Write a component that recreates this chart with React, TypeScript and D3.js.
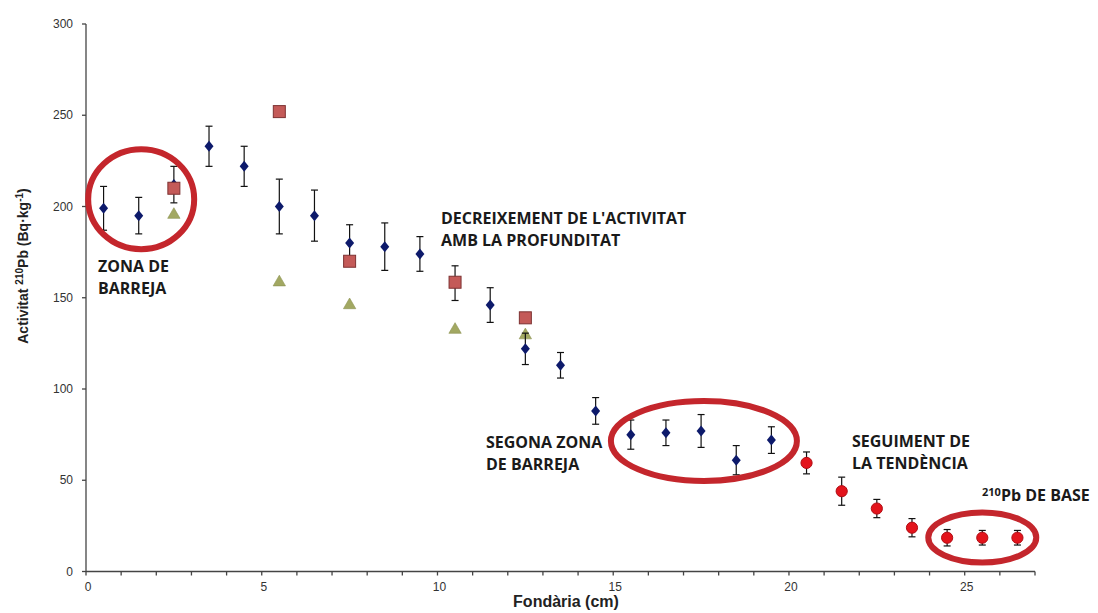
import React from "react";
import * as d3 from "d3";

// Depth (cm) and 210Pb activity (Bq·kg-1)
const depthMain = [0.5, 1.5, 2.5, 3.5, 4.5, 5.5, 6.5, 7.5, 8.5, 9.5, 10.5, 11.5, 12.5, 13.5, 14.5, 15.5, 16.5, 17.5, 18.5, 19.5];
const activityMain = [199, 195, 212, 233, 222, 200, 195, 180, 178, 174, 158, 146, 122, 113, 88, 75, 76, 77, 61, 72];
const errorMain = [12, 10, 10, 11, 11, 15, 14, 10, 13, 9.5, 9.5, 9.5, 8.6, 7, 7.3, 8, 7, 9, 8, 7.3];

const depthBase = [20.5, 21.5, 22.5, 23.5, 24.5, 25.5, 26.5];
const activityBase = [59.5, 44, 34.5, 24, 18.5, 18.5, 18.5];
const errorBase = [6, 7.7, 5, 5, 4.5, 4, 4];

const depthCompare = [2.5, 5.5, 7.5, 10.5, 12.5];
const activitySquare = [210, 252, 170, 158.5, 139];
const activityTriangle = [196, 159, 146.5, 133, 130];

const xTicks = [0, 5, 10, 15, 20, 25];
const xMinorTicks = d3.range(0, 28, 1);
const yTicks = [0, 50, 100, 150, 200, 250, 300];

// Highlighted zones: centre in data units, radii in px
const zones = [
  { cx: 1.57, cy: 204, rx: 53, ry: 50 },
  { cx: 17.58, cy: 71.5, rx: 93, ry: 40 },
  { cx: 25.5, cy: 18.6, rx: 54, ry: 25 },
];

const W = 1098;
const H = 613;
const x = d3.scaleLinear().domain([0, 27]).range([86, 1035]);
const y = d3.scaleLinear().domain([0, 300]).range([571.5, 24]);

const labelFont = "'Liberation Sans', Arial, sans-serif";
const noteFont = "'Open Sans', 'Liberation Sans', sans-serif";

function ErrorBar({ cx, v, e }: { cx: number; v: number; e: number }) {
  const top = y(v + e);
  const bot = y(v - e);
  return (
    <g stroke="#111" strokeWidth={1.2}>
      <line x1={cx} x2={cx} y1={top} y2={bot} />
      <line x1={cx - 3.5} x2={cx + 3.5} y1={top} y2={top} />
      <line x1={cx - 3.5} x2={cx + 3.5} y1={bot} y2={bot} />
    </g>
  );
}

function Note({ lines, x0, y0 }: { lines: string[]; x0: number; y0: number }) {
  return (
    <text fontFamily={noteFont} fontWeight={700} fontSize={16} fill="#1a1a1a">
      {lines.map((l, i) => (
        <tspan key={i} x={x0} y={y0 + i * 22.2}>{l}</tspan>
      ))}
    </text>
  );
}

export default function App() {
  const triangle = d3.symbol().type(d3.symbolTriangle).size(66)();
  return (
    <svg width={W} height={H} style={{ position: "absolute", left: 0, top: 0, background: "#fff" }}>
      {/* axes */}
      <g stroke="#444" strokeWidth={1.3}>
        <line x1={x(0)} x2={x(0)} y1={y(300)} y2={y(0)} />
        <line x1={x(0)} x2={x(27)} y1={y(0)} y2={y(0)} />
        {yTicks.map((t) => (
          <line key={t} x1={x(0) - 4} x2={x(0)} y1={y(t)} y2={y(t)} />
        ))}
        {xMinorTicks.map((t) => (
          <line key={t} x1={x(t)} x2={x(t)} y1={y(0)} y2={y(0) + 4} />
        ))}
      </g>
      <g fontFamily={labelFont} fontSize={12} fill="#333">
        {yTicks.map((t) => (
          <text key={t} x={x(0) - 13} y={y(t) + 4} textAnchor="end">{t}</text>
        ))}
        {xTicks.map((t) => (
          <text key={t} x={x(t) + 2} y={y(0) + 19} textAnchor="middle">{t}</text>
        ))}
      </g>
      <text x={566} y={607} textAnchor="middle" fontFamily={labelFont} fontWeight={700} fontSize={16} fill="#222">
        Fondària (cm)
      </text>
      <text
        transform="translate(28,266) rotate(-90)"
        textAnchor="middle"
        fontFamily={labelFont}
        fontWeight={700}
        fontSize={14}
        fill="#222"
      >
        Activitat <tspan fontSize={10} dy={-5}>210</tspan><tspan dy={5}>Pb (Bq·kg</tspan>
        <tspan fontSize={10} dy={-5}>-1</tspan><tspan dy={5}>)</tspan>
      </text>

      {/* triangles */}
      {depthCompare.map((d, i) => (
        <path
          key={"t" + i}
          d={triangle || ""}
          transform={`translate(${x(d)},${y(activityTriangle[i]) + 1})`}
          fill="#a2a862"
          stroke="#8c9250"
          strokeWidth={0.6}
        />
      ))}

      {/* main series with error bars */}
      {depthMain.map((d, i) => (
        <g key={"m" + i}>
          <ErrorBar cx={x(d)} v={activityMain[i]} e={errorMain[i]} />
          <path
            d="M0,-5.5L4.5,0L0,5.5L-4.5,0Z"
            transform={`translate(${x(d)},${y(activityMain[i])})`}
            fill="#0d1a6b"
          />
        </g>
      ))}

      {/* squares */}
      {depthCompare.map((d, i) => (
        <rect
          key={"s" + i}
          x={x(d) - 6}
          y={y(activitySquare[i]) - 6}
          width={12}
          height={12}
          fill="#c45a58"
          stroke="#7d3232"
          strokeWidth={1}
        />
      ))}

      {/* deep series */}
      {depthBase.map((d, i) => (
        <g key={"b" + i}>
          <ErrorBar cx={x(d)} v={activityBase[i]} e={errorBase[i]} />
          <circle cx={x(d)} cy={y(activityBase[i])} r={5.6} fill="#e3141c" stroke="#b00d14" strokeWidth={1} />
        </g>
      ))}

      {/* highlighted zones */}
      {zones.map((z, i) => (
        <ellipse key={"z" + i} cx={x(z.cx)} cy={y(z.cy)} rx={z.rx} ry={z.ry} fill="none" stroke="#c4262c" strokeWidth={6} />
      ))}

      <Note lines={["ZONA DE", "BARREJA"]} x0={98} y0={272} />
      <Note lines={["DECREIXEMENT DE L'ACTIVITAT", "AMB LA PROFUNDITAT"]} x0={441} y0={224} />
      <Note lines={["SEGONA ZONA", "DE BARREJA"]} x0={486} y0={447.5} />
      <Note lines={["SEGUIMENT DE", "LA TENDÈNCIA"]} x0={852} y0={446.5} />
      <text x={982} y={501} fontFamily={noteFont} fontWeight={700} fontSize={16} fill="#1a1a1a">
        <tspan fontSize={11} dy={-5}>210</tspan>
        <tspan dy={5}>Pb DE BASE</tspan>
      </text>
    </svg>
  );
}
